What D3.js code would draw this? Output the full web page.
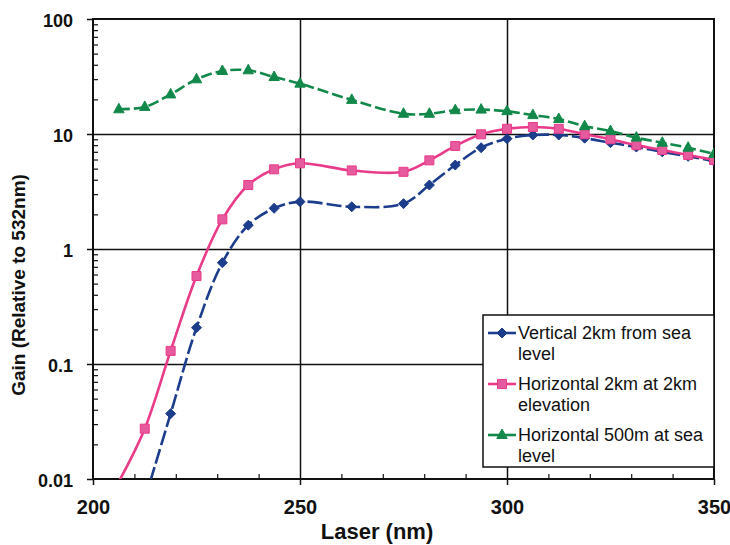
<!DOCTYPE html>
<html>
<head>
<meta charset="utf-8">
<script src="https://cdn.jsdelivr.net/npm/d3@7"></script>
<style>
    body { margin: 0; background: #fff; }
    svg { display: block; font-family: "Liberation Sans", Arial, sans-serif; }
</style>
</head>
<body>
<svg id="chart" width="730" height="545"></svg>
<script>
// wavelengths (nm)
let wavelengths = [206.25, 212.5, 218.75, 225, 231.25, 237.5, 243.75, 250, 262.5, 275,
    281.25, 287.5, 293.75, 300, 306.25, 312.5, 318.75, 325, 331.25, 337.5, 343.75, 350]

// gain relative to 532nm, null where the series has no point
let verticalSea = [null, 0.0066, 0.037, 0.207, 0.76, 1.61, 2.26, 2.58, 2.33, 2.48,
    3.6, 5.37, 7.6, 9.1, 9.8, 9.8, 9.2, 8.4, 7.7, 7.0, 6.4, 5.8]
let horizontal2km = [0.0095, 0.0274, 0.13, 0.582, 1.81, 3.6, 4.93, 5.56, 4.82, 4.69,
    5.9, 7.87, 9.94, 11.1, 11.5, 11.1, 9.94, 9.0, 8.0, 7.26, 6.57, 5.95]
let horizontal500m = [16.4, 17.2, 22.1, 29.9, 35.3, 35.8, 31.3, 27.4, 19.8, 15.0,
    15.0, 16.1, 16.3, 15.8, 14.6, 13.5, 11.7, 10.6, 9.3, 8.4, 7.6, 6.7]

let xTicks = [200, 250, 300, 350]
let yTicks = [0.01, 0.1, 1, 10, 100]
let yTickLabels = ["0.01", "0.1", "1", "10", "100"]

let series = [
    {label: ["Vertical 2km from sea", "level"], values: verticalSea,
        color: "#1c3d8c", fill: "#1c3d8c", dash: "15,4", marker: "diamond"},
    {label: ["Horizontal 2km at 2km", "elevation"], values: horizontal2km,
        color: "#ea3a8a", fill: "#e65a9e", dash: null, marker: "square"},
    {label: ["Horizontal 500m at sea", "level"], values: horizontal500m,
        color: "#12894a", fill: "#12894a", dash: "11,4", marker: "triangle"},
]

let margin = {top: 19, right: 16, bottom: 66, left: 93}
let width = 730 - margin.left - margin.right
let height = 545 - margin.top - margin.bottom

let x = d3.scaleLinear().domain([200, 350]).range([0, width])
let y = d3.scaleLog().domain([0.01, 100]).range([height, 0])

let svg = d3.select("svg#chart")
let g = svg.append("g").attr("transform", `translate(${margin.left},${margin.top})`)

g.append("defs").append("clipPath")
    .attr("id", "plot-clip")
    .append("rect")
        .attr("width", width)
        .attr("height", height)

// grid lines at the inner major ticks
g.append("g")
    .classed("grid", true)
    .call(d3.axisLeft(y).tickValues(yTicks.slice(1, -1)).tickSize(-width).tickFormat(""))
    .call(s => s.select(".domain").remove())
    .selectAll("line").attr("stroke", "#111").attr("stroke-width", 1.5)
g.append("g")
    .classed("grid", true)
    .attr("transform", `translate(0,${height})`)
    .call(d3.axisBottom(x).tickValues(xTicks.slice(1, -1)).tickSize(-height).tickFormat(""))
    .call(s => s.select(".domain").remove())
    .selectAll("line").attr("stroke", "#111").attr("stroke-width", 1.5)

// minor ticks pointing into the plot
let minorY = []
for (let d = -2; d < 2; d++) {
    for (let k = 2; k <= 9; k++) minorY.push(k * Math.pow(10, d))
}
let minorX = d3.range(210, 350, 10).filter(v => !xTicks.includes(v))
g.append("g")
    .call(d3.axisLeft(y).tickValues(minorY).tickSize(-5).tickFormat(""))
    .call(s => s.select(".domain").remove())
    .selectAll("line").attr("stroke", "#111").attr("stroke-width", 1.2)
g.append("g")
    .attr("transform", `translate(0,${height})`)
    .call(d3.axisBottom(x).tickValues(minorX).tickSize(-5).tickFormat(""))
    .call(s => s.select(".domain").remove())
    .selectAll("line").attr("stroke", "#111").attr("stroke-width", 1.2)

// plot frame
g.append("rect")
    .attr("width", width)
    .attr("height", height)
    .attr("fill", "none")
    .attr("stroke", "#111")
    .attr("stroke-width", 2)

// major axes with labels
let yAxis = g.append("g")
    .call(d3.axisLeft(y).tickValues(yTicks).tickSize(6).tickPadding(14)
        .tickFormat((d, i) => yTickLabels[i]))
yAxis.select(".domain").remove()
yAxis.selectAll("line").attr("stroke", "#111").attr("stroke-width", 1.5)
yAxis.selectAll("text")
    .attr("fill", "#111")
    .attr("dy", "0.42em")
    .style("font-size", "18px")
    .style("font-weight", "bold")

let xAxis = g.append("g")
    .attr("transform", `translate(0,${height})`)
    .call(d3.axisBottom(x).tickValues(xTicks).tickSize(6).tickPadding(15))
xAxis.select(".domain").remove()
xAxis.selectAll("line").attr("stroke", "#111").attr("stroke-width", 1.5)
xAxis.selectAll("text")
    .attr("fill", "#111")
    .style("font-size", "20px")
    .style("font-weight", "bold")

// axis titles
svg.append("text")
    .attr("x", 377)
    .attr("y", 539)
    .attr("text-anchor", "middle")
    .attr("fill", "#111")
    .style("font-size", "22px")
    .style("font-weight", "bold")
    .text("Laser (nm)")
svg.append("text")
    .attr("transform", "translate(25,285) rotate(-90)")
    .attr("text-anchor", "middle")
    .attr("fill", "#111")
    .style("font-size", "19px")
    .style("font-weight", "bold")
    .text("Gain (Relative to 532nm)")

function markerPath(type) {
    if (type === "diamond") return "M0,-5L5,0L0,5L-5,0Z"
    if (type === "square") return "M-4.5,-4.5H4.5V4.5H-4.5Z"
    return "M0,-6L5.2,3.5H-5.2Z"
}

let line = d3.line()
    .x(d => x(d.nm))
    .y(d => y(d.v))
    .curve(d3.curveCatmullRom.alpha(0.5))

let lines = g.append("g").attr("clip-path", "url(#plot-clip)")
for (let s of series) {
    let pts = wavelengths.map((nm, i) => ({nm, v: s.values[i]})).filter(d => d.v != null)
    lines.append("path")
        .datum(pts)
        .attr("fill", "none")
        .attr("stroke", s.color)
        .attr("stroke-width", 2.6)
        .attr("stroke-dasharray", s.dash)
        .attr("d", line)
    lines.selectAll(null)
        .data(pts.filter(d => d.v >= 0.01))
        .join("path")
            .attr("transform", d => `translate(${x(d.nm)},${y(d.v)})`)
            .attr("d", markerPath(s.marker))
            .attr("fill", s.fill)
            .attr("stroke", s.color)
            .attr("stroke-width", 1)
}

// legend
let legend = svg.append("g").attr("transform", "translate(483,315)")
legend.append("rect")
    .attr("width", 231)
    .attr("height", 152)
    .attr("fill", "#fff")
    .attr("stroke", "#111")
    .attr("stroke-width", 1.5)
let entries = legend.selectAll("g")
    .data(series)
    .join("g")
        .attr("transform", (d, i) => `translate(0,${24 + i * 51})`)
entries.append("line")
    .attr("x1", 5)
    .attr("x2", 33)
    .attr("y1", -6)
    .attr("y2", -6)
    .attr("stroke", d => d.color)
    .attr("stroke-width", 2.6)
entries.append("path")
    .attr("transform", "translate(19,-6)")
    .attr("d", d => markerPath(d.marker))
    .attr("fill", d => d.fill)
    .attr("stroke", d => d.color)
entries.append("text")
    .attr("fill", "#111")
    .style("font-size", "18px")
    .selectAll("tspan")
    .data(d => d.label)
    .join("tspan")
        .attr("x", 35)
        .attr("y", (d, i) => i * 21)
        .text(d => d)
</script>
</body>
</html>
